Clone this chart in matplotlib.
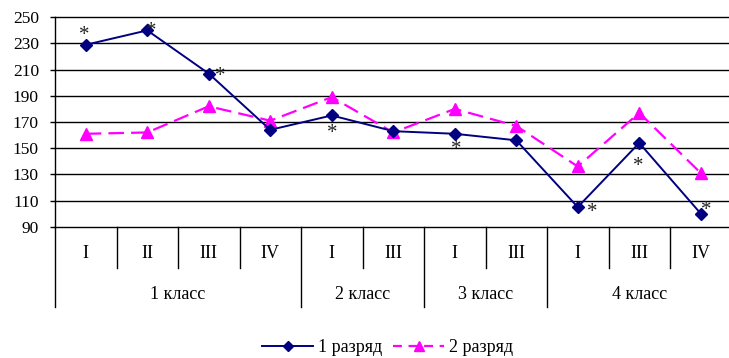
import matplotlib.pyplot as plt
from matplotlib.lines import Line2D

plt.rcParams['font.family'] = ['Liberation Serif', 'DejaVu Serif']

# Categories: sub-rank within class
sub_labels = ['I', 'II', 'III', 'IV', 'I', 'III', 'I', 'III', 'I', 'III', 'IV']
group_labels = ['1 класс', '2 класс', '3 класс', '4 класс']
group_sizes = [4, 2, 2, 3]

rank1 = [229, 240, 207, 164, 175, 163, 161, 156, 105, 154, 100]
rank2 = [161, 162, 182, 171, 189, 162, 180, 167, 136, 177, 131]

# significance marks on series 1: (index, x offset, y offset) in points
stars = [(0, -1.4, 6.5), (1, 3.2, -0.6), (2, 8, -1.8), (4, 0.7, -13.3),
         (6, 1.2, -11.6), (8, 10.3, -4.2), (9, -0.7, -16.9), (10, 3.6, 2.5)]

fig = plt.figure(figsize=(7.29, 3.58), dpi=100)
ax = fig.add_axes([55 / 729, 1 - 226.7 / 358, 676.5 / 729, 209.4 / 358])

x = list(range(len(sub_labels)))
ax.plot(x, rank1, color='#000080', lw=1.4, marker='D', ms=6.5, zorder=4,
        label='1 разряд')
ax.plot(x, rank2, color='#FF00FF', lw=1.6, ls=(0, (7, 3.2)), marker='^', ms=8.5,
        zorder=3, label='2 разряд')

for i, dx, dy in stars:
    ax.annotate('*', (x[i], rank1[i]), xytext=(dx, dy), textcoords='offset points',
                ha='center', va='center', fontsize=15, color='#222222', zorder=5)

ax.set_xlim(-0.5, len(sub_labels) - 0.5)
ax.set_ylim(90, 250)
ax.set_yticks(range(90, 251, 20))
ax.tick_params(axis='y', labelsize=12.5, length=3.6, width=1, pad=8)
ax.set_xticks([])
for yv in range(110, 251, 20):
    ax.axhline(yv, color='black', lw=1, zorder=1, clip_on=False)

for side in ['top', 'right']:
    ax.spines[side].set_visible(False)
ax.spines['left'].set_linewidth(1)
ax.spines['bottom'].set_linewidth(1)

# two-level category axis drawn below the plot
trans = ax.get_xaxis_transform()
ax_h = 209.4
inner_drop = -41 / ax_h
group_drop = -80 / ax_h
for i, lab in enumerate(sub_labels):
    ax.text(i, -27 / ax_h, lab, transform=trans, ha='center', va='center',
            fontsize=13)
bounds = [-0.5]
for g in group_sizes:
    bounds.append(bounds[-1] + g)
for b in [i - 0.5 for i in range(len(sub_labels))]:
    depth = group_drop if b in bounds else inner_drop
    ax.plot([b, b], [0, depth], transform=trans, color='black', lw=1,
            clip_on=False)
for g, lab in enumerate(group_labels):
    mid = (bounds[g] + bounds[g + 1]) / 2
    ax.text(mid, -68 / ax_h, lab, transform=trans, ha='center', va='center',
            fontsize=13)

handles = [Line2D([], [], color='#000080', lw=1.4, marker='D', ms=5.5),
           Line2D([], [], color='#FF00FF', lw=1.6, ls=(0, (4, 3)), marker='^', ms=7)]
fig.legend(handles, ['1 разряд', '2 разряд'], loc='center', ncol=2,
           bbox_to_anchor=(388 / 729, 1 - 348 / 358), frameon=False,
           fontsize=13, handlelength=2.8, handletextpad=0.3, columnspacing=0.6,
           borderpad=0)

fig.savefig('out.png', dpi=100)
